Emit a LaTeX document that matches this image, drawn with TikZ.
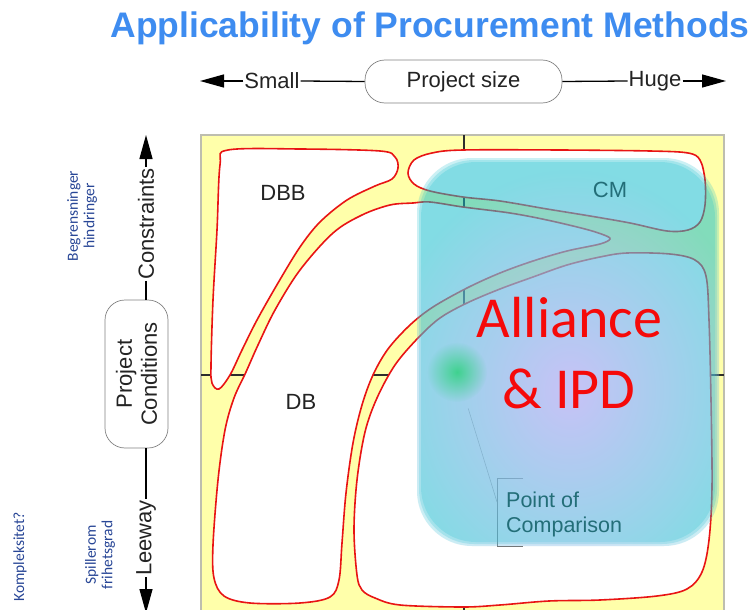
\documentclass[tikz,border=0pt]{standalone}
\usepackage{fontspec}
\setmainfont{Liberation Sans}
\newfontfamily\carlito{Carlito}
\usetikzlibrary{arrows.meta,fadings,calc}

\definecolor{titleblue}{RGB}{62,140,240}
\definecolor{noteblue}{RGB}{40,70,150}
\definecolor{chartyellow}{RGB}{255,255,170}
\definecolor{framegray}{RGB}{190,190,175}
\definecolor{outlinered}{RGB}{232,20,20}
\definecolor{axisdark}{RGB}{45,45,45}
\definecolor{labelgray}{RGB}{35,35,35}
\definecolor{tealtext}{RGB}{35,110,120}
\definecolor{blobteal}{RGB}{20,190,205}
\definecolor{blobcore}{RGB}{212,190,250}
\definecolor{spotgreen}{RGB}{40,210,120}
\definecolor{alliancered}{RGB}{245,10,10}
\definecolor{pillgray}{RGB}{130,130,130}

\tikzfading[name=softspot, inner color=transparent!0, outer color=transparent!100]

\begin{document}
\begin{tikzpicture}[x=1pt,y=-1pt,
  title/.style={font=\bfseries\fontsize{35.5}{40}\selectfont, text=titleblue},
  axislbl/.style={font=\fontsize{22}{25}\selectfont, text=labelgray, inner sep=1pt},
  pill/.style={draw=pillgray, line width=0.7pt, rounded corners=20pt, fill=white,
    font=\fontsize{22}{25}\selectfont, text=labelgray, align=center},
  axisarrow/.style={draw=black, line width=1.3pt, -{Triangle[length=24pt,width=13pt]}},
  axisplain/.style={draw=black, line width=1.3pt},
  note/.style={font=\carlito\fontsize{15.5}{16.5}\selectfont, text=noteblue, align=center, rotate=90},
  region/.style={draw=outlinered, line width=1.6pt, fill=white},
  cross/.style={draw=axisdark, line width=1.3pt},
  methodlbl/.style={font=\fontsize{22}{25}\selectfont, text=labelgray},
  pointlbl/.style={font=\fontsize{21.5}{25}\selectfont, text=tealtext, anchor=base west, inner sep=0pt},
  bracket/.style={draw=black!55, line width=0.6pt},
  blob/.style={fill=blobteal, fill opacity=0.22, rounded corners=55pt},
  bigtext/.style={font=\carlito\fontsize{58}{70}\selectfont, text=alliancered, anchor=base, inner sep=0pt}
]
\useasboundingbox (0,0) rectangle (753,610);

% ---------- title ----------
\node[title] (title) at (430,28) {Applicability of Procurement Methods};

% ---------- horizontal scale: project size ----------
\node[pill, minimum width=197pt, minimum height=43pt, inner sep=0pt] (size) at (463.5,81.5) {Project size};
\node[axislbl] (small) at (272,81) {Small};
\node[axislbl] (huge) at (655,81) {Huge};
\coordinate (leftend) at (200,81);
\coordinate (rightend) at (726,81);
\draw[axisplain] (small.east) -- (size.west);
\draw[axisplain] (size.east) -- (huge.west);
\draw[axisarrow] (small.west) -- (leftend);
\draw[axisarrow] (huge.east) -- (rightend);

% ---------- vertical scale: project conditions ----------
\node[pill, rotate=90, minimum width=148pt, minimum height=63pt, inner sep=0pt] (cond) at (136.5,374) {Project\\Conditions};
\node[axislbl, rotate=90] (constr) at (146,224) {Constraints};
\node[axislbl, rotate=90] (leeway) at (146,538) {Leeway};
\coordinate (topend) at (146,135);
\coordinate (botend) at (146,613);
\draw[axisplain] (constr.west) -- (146,300);
\draw[axisplain] (146,448) -- (leeway.east);
\draw[axisarrow] (constr.east) -- (topend);
\draw[axisarrow] (leeway.west) -- (botend);

% ---------- Norwegian notes ----------
\node[note] (begr) at (82,216) {Begrensninger\\hindringer};
\node[note] (spill) at (100,555) {Spillerom\\frihetsgrad};
\node[note] (kompl) at (20,557) {Kompleksitet?};

% ---------- chart field ----------
\fill[chartyellow, draw=framegray, line width=1.2pt] (201,135) rectangle (724,612);
\draw[cross] (464,135) -- (464,612);
\draw[cross] (201,375) -- (724,375);

% DBB region
\draw[region] plot[smooth cycle, tension=0.55] coordinates {
  (228,150) (300,149) (380,151) (395,157) (398,168) (392,179) (375,186)
  (347,200) (320,222) (300,247) (278,283) (257,320) (242,350) (230,375)
  (219,389) (212,383) (211,365) (213,300) (217,230) (220,165)};

% CM region
\draw[region] plot[smooth cycle, tension=0.55] coordinates {
  (408,173) (414,160) (432,153) (463,150) (560,150) (650,151) (688,153)
  (700,160) (705,180) (705,205) (700,222) (688,230) (667,231) (630,223)
  (590,216) (547,209) (500,201) (463,197) (430,191) (414,184)};

% DB region
\draw[region] plot[smooth cycle, tension=0.55] coordinates {
  (390,205) (413,203) (430,202) (463,207) (510,213) (547,220) (585,229)
  (604,235) (610,239) (600,244) (567,251) (533,261) (500,273) (467,288)
  (433,307) (410,325) (388,349) (373,375) (362,405) (353,443) (346,493)
  (342,543) (339,580) (330,597) (300,603) (250,603) (224,596) (214,578)
  (213,545) (218,480) (225,430) (234,398) (246,372) (258,345) (275,310)
  (300,270) (333,233) (362,215)};

% large lower-right region
\draw[region] plot[smooth cycle, tension=0.55] coordinates {
  (357,575) (354,530) (357,480) (365,432) (377,398) (395,365) (418,338)
  (440,318) (467,303) (500,289) (533,277) (567,265) (600,257) (627,253)
  (670,254) (695,260) (706,276) (709,320) (711,400) (712,487) (709,540)
  (702,572) (687,589) (657,596) (600,600) (549,601) (500,605) (463,607)
  (400,605) (375,598) (362,590)};

% method labels
\node[methodlbl] (dbb) at (283,193) {DBB};
\node[methodlbl] (db) at (301,402) {DB};

% point of comparison callout
\coordinate (spot) at (457,372);
\coordinate (leadend) at (497,502);
\draw[bracket] (523,478) -- (497,478) -- (497,546) -- (523,546);
\draw[draw=black!45, line width=0.5pt] ($(spot)!0.28!(leadend)$) -- (leadend);

% translucent alliance area, built up in layers for a soft rim
\path[blob] (417,158) rectangle (719,546);
\path[blob] (419,160) rectangle (717,544);
\path[blob] (421,162) rectangle (715,542);
\begin{scope}
  \clip[rounded corners=55pt] (417,158) rectangle (719,546);
  \fill[blobcore, fill opacity=0.85, path fading=softspot] (570,390) ellipse (190 and 220);
\end{scope}
\fill[spotgreen, fill opacity=0.8, path fading=softspot] (spot) circle (30);

% labels lying on the translucent area
\node[methodlbl, text=tealtext] (cm) at (610,190) {CM};
\node[pointlbl] (poc1) at (506,507) {Point of};
\node[pointlbl] (poc2) at (506,532) {Comparison};

\node[bigtext] (alliance) at (569.5,337) {Alliance};
\node[bigtext] (ipd) at (569,408) {\& IPD};
\end{tikzpicture}
\end{document}
